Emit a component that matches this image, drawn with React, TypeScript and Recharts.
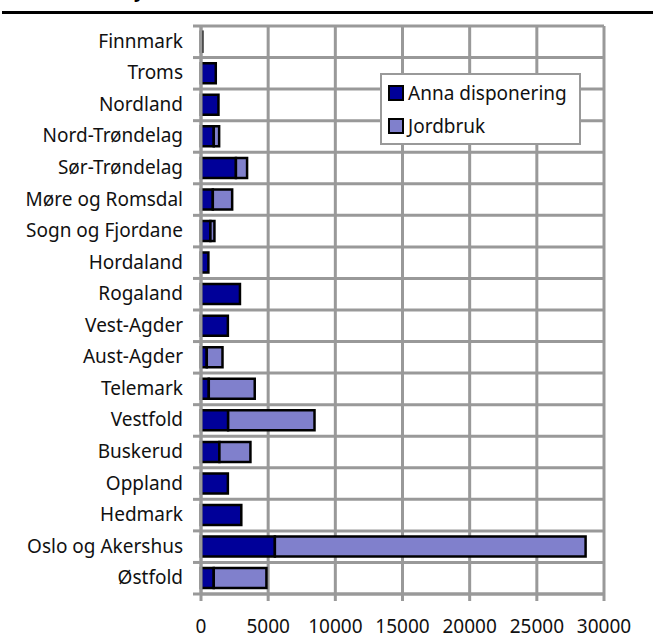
import React from "react";
import { Bar, BarChart, CartesianGrid, Legend, XAxis, YAxis } from "recharts";

const fylker = [
  "Finnmark",
  "Troms",
  "Nordland",
  "Nord-Trøndelag",
  "Sør-Trøndelag",
  "Møre og Romsdal",
  "Sogn og Fjordane",
  "Hordaland",
  "Rogaland",
  "Vest-Agder",
  "Aust-Agder",
  "Telemark",
  "Vestfold",
  "Buskerud",
  "Oppland",
  "Hedmark",
  "Oslo og Akershus",
  "Østfold",
];
const annaDisponering = [100, 1100, 1300, 950, 2600, 880, 700, 550, 2900, 2000, 430, 580, 2020, 1370, 2000, 3000, 5500, 950];
const jordbruk = [0, 0, 0, 400, 830, 1440, 300, 0, 0, 0, 1170, 3420, 6430, 2310, 0, 0, 23130, 3920];
const xTicks = [0, 5000, 10000, 15000, 20000, 25000, 30000];

const data = fylker.map((name, i) => ({ name, anna: annaDisponering[i], jordbruk: jordbruk[i] }));

const FONT = "'Noto Sans', sans-serif";
const GRID = "#999999";
const DARK = "#000099";
const LIGHT = "#8080cc";
const TEXT = "#111";

// label plus a tick mark at the category boundary (Excel style)
function FylkeTick(props: any) {
  const { x, y, payload, index } = props;
  const half = payload.offset || 0;
  const axisX = x + 8;
  return (
    <g>
      <line x1={axisX - 8} x2={axisX} y1={y - half} y2={y - half} stroke={GRID} strokeWidth={3} />
      {index === fylker.length - 1 && (
        <line x1={axisX - 8} x2={axisX} y1={y + half} y2={y + half} stroke={GRID} strokeWidth={3} />
      )}
      <text x={x - 10} y={y} dy={6} textAnchor="end" fontSize={19} fontFamily={FONT} fill={TEXT}>
        {payload.value}
      </text>
    </g>
  );
}

function LegendBox() {
  const items = [
    { label: "Anna disponering", color: DARK },
    { label: "Jordbruk", color: LIGHT },
  ];
  return (
    <div
      style={{
        border: `2.5px solid ${GRID}`,
        background: "#fff",
        padding: "1px 6px",
        fontFamily: FONT,
        fontSize: 19,
        color: TEXT,
        boxSizing: "border-box",
      }}
    >
      {items.map((it) => (
        <div key={it.label} style={{ display: "flex", alignItems: "center", height: 33 }}>
          <span
            style={{
              width: 12,
              height: 12,
              background: it.color,
              border: "2px solid #000",
              marginRight: 4,
              display: "inline-block",
            }}
          />
          {it.label}
        </div>
      ))}
    </div>
  );
}

export default function App() {
  return (
    <div style={{ position: "absolute", left: 0, top: 0, width: 653, height: 634, background: "#fff" }}>
      <div style={{ position: "absolute", left: 2, right: 0, top: 11, height: 3, background: "#000" }} />
      <div
        style={{
          position: "absolute",
          left: 134,
          top: -21,
          fontFamily: FONT,
          fontWeight: "bold",
          fontSize: 18,
        }}
      >
        y
      </div>
      <BarChart
        width={653}
        height={634}
        data={data}
        layout="vertical"
        margin={{ top: 26, right: 49, bottom: 0, left: 0 }}
        barCategoryGap="18%"
      >
        <CartesianGrid
          stroke={GRID}
          strokeWidth={3}
          horizontalCoordinatesGenerator={({ offset }: any) =>
            Array.from({ length: fylker.length + 1 }, (_, i) => offset.top + (i * offset.height) / fylker.length)
          }
        />
        <XAxis
          type="number"
          domain={[0, 30000]}
          ticks={xTicks}
          height={40}
          interval={0}
          stroke={GRID}
          strokeWidth={3}
          tickSize={7}
          tickMargin={19}
          tick={{ fontSize: 19, fontFamily: FONT, fill: TEXT }}
        />
        <YAxis
          type="category"
          dataKey="name"
          width={201}
          interval={0}
          tickLine={false}
          stroke={GRID}
          strokeWidth={3}
          tick={<FylkeTick />}
        />
        <Legend
          layout="vertical"
          align="center"
          verticalAlign="middle"
          content={<LegendBox />}
          wrapperStyle={{ left: 380, top: 73, width: 201 }}
        />
        <Bar dataKey="anna" name="Anna disponering" stackId="a" fill={DARK} stroke="#000" strokeWidth={2.5} isAnimationActive={false} />
        <Bar dataKey="jordbruk" name="Jordbruk" stackId="a" fill={LIGHT} stroke="#000" strokeWidth={2.5} isAnimationActive={false} />
      </BarChart>
    </div>
  );
}
